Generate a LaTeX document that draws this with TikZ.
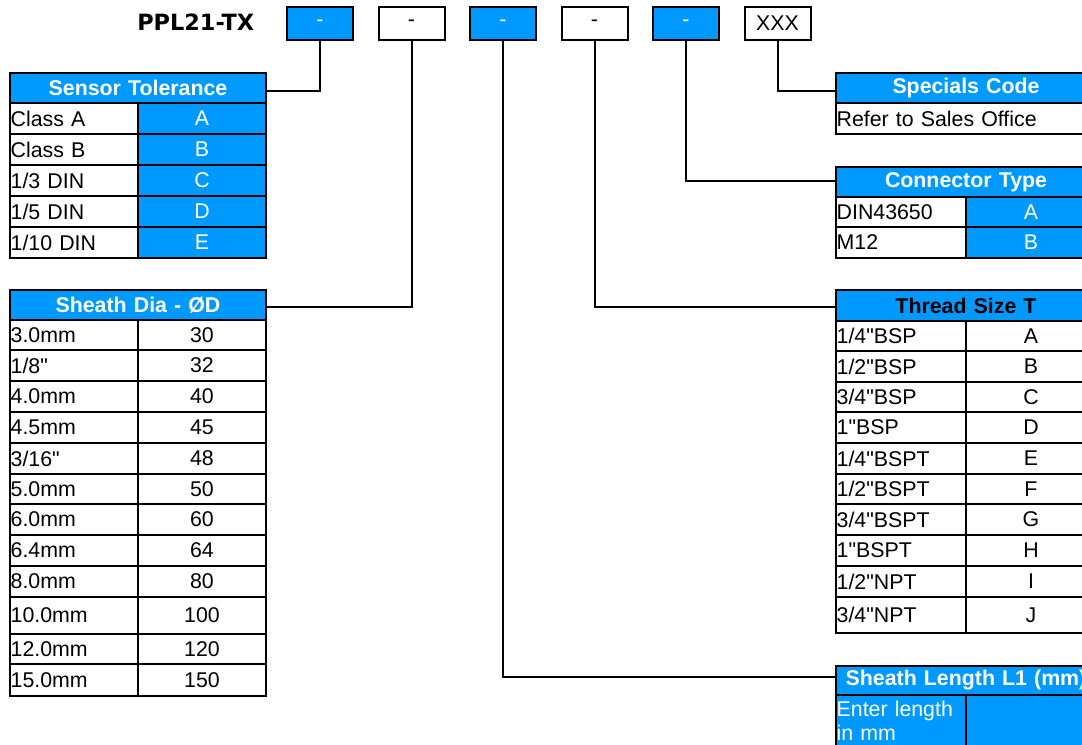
\documentclass[tikz,border=0pt]{standalone}
\usepackage{fontspec}
\setmainfont{Liberation Sans}[Ligatures=TeXOff]
\newfontfamily\titlefont{DejaVu Sans}
\definecolor{xblue}{RGB}{0,153,255}
\begin{document}
\begin{tikzpicture}[x=0.75pt,y=-0.75pt,
  txt/.style={font=\fontsize{16}{18}\selectfont},
  cell/.style={txt, draw=black, line width=1.5pt, rectangle, anchor=north west, inner xsep=0.5pt, inner ysep=0pt},
  lcell/.style={cell, text width=#1, align=left},
  ccell/.style={cell, text width=#1, align=center},
  bluecell/.style={fill=xblue, text=white},
  hdr/.style={cell, fill=xblue, text=white, text width=#1, align=center, font=\fontsize{16}{18}\selectfont\bfseries},
  topbox/.style={txt, draw=black, line width=1.5pt, minimum width=49.5pt, minimum height=24.75pt, inner sep=0pt},
  conn/.style={draw=black, line width=1.5pt}]
\useasboundingbox (0,0) rectangle (1082,744);
\clip (0,0) rectangle (1082,744);

% title and code boxes
\node[font=\titlefont\bfseries\fontsize{16.8}{20}\selectfont, anchor=west, inner sep=0pt] (title) at (137,22) {PPL21-TX};
\foreach \i/\c/\t/\tc in {1/xblue/-/white, 2/white/-/black, 3/xblue/-/white, 4/white/-/black, 5/xblue/-/white, 6/white/XXX/black}
  \node[topbox, fill=\c, text=\tc] (b\i) at ({320+91.5*(\i-1)},23.5) {\t};

% Sensor Tolerance
\node[hdr=191pt, minimum height=22.5pt] (hST) at (9,72) {Sensor Tolerance};
\foreach \a/\b [count=\i] in {Class A/A, Class B/B, {1/3 DIN}/C, {1/5 DIN}/D, {1/10 DIN}/E} {
  \node[lcell=95pt, minimum height=23.25pt] (stL\i) at (9,{102+31*(\i-1)}) {\a};
  \node[ccell=95pt, bluecell, minimum height=23.25pt] (stR\i) at (137,{102+31*(\i-1)}) {\b};
}

% Sheath Dia
\node[hdr=191pt, minimum height=22.5pt] (hSD) at (9,289) {Sheath Dia - ØD};
\foreach \y/\h/\a/\b [count=\i] in {319/30/3.0mm/30, 349/31/{1/8"}/32, 380/31/4.0mm/40, 411/31/4.5mm/45, 442/31/{3/16"}/48, 473/30/5.0mm/50, 503/31/6.0mm/60, 534/31/6.4mm/64, 565/31/8.0mm/80, 596/37/10.0mm/100, 633/30/12.0mm/120, 663/32/15.0mm/150} {
  \node[lcell=95pt, minimum height=\h*0.75pt] (sdL\i) at (9,\y) {\a};
  \node[ccell=95pt, minimum height=\h*0.75pt] (sdR\i) at (137,\y) {\b};
}

% Specials Code
\node[hdr=194pt, minimum height=22.5pt] (hSC) at (835,72) {Specials Code};
\node[lcell=194pt, minimum height=23.25pt] (sc1) at (835,102) {Refer to Sales Office};

% Connector Type
\node[hdr=194pt, minimum height=22.5pt] (hCT) at (835,166) {Connector Type};
\foreach \y/\h/\a/\b [count=\i] in {196/30/DIN43650/A, 226/31/M12/B} {
  \node[lcell=96.5pt, minimum height=\h*0.75pt] (ctL\i) at (835,\y) {\a};
  \node[ccell=96.5pt, bluecell, minimum height=\h*0.75pt] (ctR\i) at (965,\y) {\b};
}

% Thread Size
\node[hdr=194pt, text=black, minimum height=23.25pt] (hTS) at (835,289) {Thread Size T};
\foreach \y/\h/\a/\b [count=\i] in {320/30/{1/4"BSP}/A, 350/31/{1/2"BSP}/B, 381/30/{3/4"BSP}/C, 411/31/1"BSP/D, 442/31/{1/4"BSPT}/E, 473/30/{1/2"BSPT}/F, 503/31/{3/4"BSPT}/G, 534/31/1"BSPT/H, 565/31/{1/2"NPT}/I, 596/36/{3/4"NPT}/J} {
  \node[lcell=96.5pt, minimum height=\h*0.75pt] (tsL\i) at (835,\y) {\a};
  \node[ccell=96.5pt, minimum height=\h*0.75pt] (tsR\i) at (965,\y) {\b};
}

% Sheath Length
\node[hdr=194pt, minimum height=21.75pt] (hSL) at (835,665) {Sheath Length L1 (mm)};
\node[lcell=96.5pt, bluecell, minimum height=39pt] (slL) at (835,694) {Enter length\\in mm};
\node[ccell=96.5pt, bluecell, minimum height=39pt] (slR) at (965,694) {};

% connectors
\draw[conn] (b1.south) |- ([yshift=-2.25pt]hST.east);
\draw[conn] (b2.south) |- ([yshift=-1.5pt]hSD.east);
\draw[conn] (b3.south) |- ([yshift=3pt]hSL.west);
\draw[conn] (b4.south) |- ([yshift=-1pt]hTS.west);
\draw[conn] (b5.south) |- ([yshift=1pt]hCT.west);
\draw[conn] (b6.south) |- ([yshift=-2.25pt]hSC.west);
\end{tikzpicture}
\end{document}
